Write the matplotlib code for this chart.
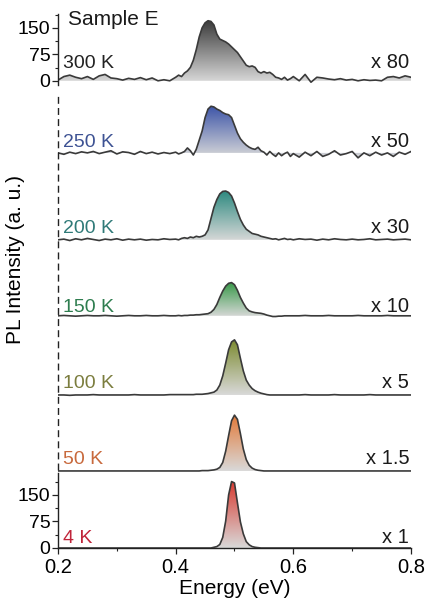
import numpy as np
import matplotlib.pyplot as plt
from matplotlib.colors import LinearSegmentedColormap

plt.rcParams['font.family'] = ['Liberation Sans', 'DejaVu Sans']

# energy grid (eV): coarse on the wings, finer around the emission band
energy = np.round(np.concatenate([np.arange(0.20, 0.395, 0.01),
                                  np.arange(0.400, 0.5975, 0.005),
                                  np.arange(0.60, 0.805, 0.01)]), 3)

temps = ['4 K', '50 K', '100 K', '150 K', '200 K', '250 K', '300 K']
factors = ['x 1', 'x 1.5', 'x 5', 'x 10', 'x 30', 'x 50', 'x 80']

# PL intensity as displayed (already multiplied by the factor), a.u.
pl_4k = [0, 0, 0, 0, 0, 0, 0, 0, 0, 0, 0, 0, 0, 0, 0, 0, 0, 0, 0, 0,
         0, 0, 0, 0, 0, 0, 0, 0, 0, 0, 0, 0, 0, 2, 4, 10, 30, 76, 150, 188,
         184, 128, 74, 40, 18, 9, 4, 2, 1, 0, 0, 0, 0, 0, 0, 0, 0, 0, 0, 0,
         0, 0, 0, 0, 0, 0, 0, 0, 0, 0, 0, 0, 0, 0, 0, 0, 0, 0, 0, 0, 0]
pl_50k = [0, 0, 0, 0, 0, 0, 0, 0, 0, 0, 0, 0, 0, 0, 0, 0, 0, 0, 0, 0,
          0, 0, 0, 0, 0, 0, 0, 0, 0, 1, 1, 1, 2, 3, 5, 10, 24, 56, 100, 142,
          158, 146, 106, 62, 32, 16, 8, 4, 2, 1, 0, 0, 0, 0, 0, 0, 0, 0, 0, 0,
          0, 0, 0, 0, 0, 0, 0, 0, 0, 0, 0, 0, 0, 0, 0, 0, 0, 0, 0, 0, 0]
pl_100k = [0, 0, -1, 0, 0, 0, 1, 0, 0, 0, 0, 0, 0, 1, 0, 0, 0, 0, 0, 1,
           1, 1, 1, 1, 1, 1, 1, 2, 2, 2, 3, 4, 6, 8, 14, 28, 54, 90, 128, 150,
           156, 142, 104, 68, 42, 28, 18, 12, 8, 5, 3, 1, 0, 0, 0, 0, 0, 0, 0, 0,
           0, 0, 1, 0, 0, 0, 0, 1, 0, 0, 0, 0, 0, 1, 0, 0, 0, 0, 0, 0, 0]
pl_150k = [0, 1, 0, -1, 0, 1, 0, 0, 1, 0, -1, 0, 1, 0, 0, 1, 0, 0, 1, 0,
           0, 1, 0, 1, 1, 2, 2, 3, 3, 4, 5, 6, 10, 18, 32, 52, 70, 84, 92, 94,
           88, 72, 52, 36, 22, 14, 11, 9, 8, 7, 5, 2, 0, -2, -2, -1, -1, 0, 0, 0,
           0, 0, 1, 0, 0, 0, 1, 0, 0, 0, 0, 1, 0, 0, 0, 0, 1, 0, 0, 0, 0]
pl_200k = [0, 2, -2, 3, 0, 4, 1, -2, 2, 0, 3, -1, 2, 0, 2, -1, 1, 0, 3, 1,
           2, 0, 4, 6, 4, 8, 6, 10, 8, 10, 14, 28, 60, 92, 114, 130, 137, 138, 134, 124,
           104, 80, 58, 42, 30, 24, 18, 16, 14, 10, 8, 6, 4, 2, 3, 0, 2, 4, 1, 2,
           0, 3, 1, 2, -1, 2, 0, 3, 1, 0, 2, 0, 1, 3, 0, 1, 2, 0, 1, 2, 0]
pl_250k = [0, -4, 2, -2, 3, 0, 4, -2, 2, 6, -3, 3, 1, -4, 4, -2, 2, -3, 1, -2,
           2, -3, 0, 4, 14, 6, -6, 10, 36, 62, 100, 124, 132, 130, 124, 120, 114, 110, 108, 100,
           78, 56, 40, 30, 22, 16, 12, 10, 16, 6, 2, -6, 4, -4, -10, 0, -8, -2, 2, -10,
           -2, -12, 2, -8, 4, -10, -4, 6, -6, -2, 4, -14, 0, -8, 2, -6, 0, -10, 2, -4, 4]
pl_300k = [2, 12, 16, 10, 6, 12, 4, 14, 18, 8, 6, 2, 7, 4, 9, 3, 8, 0, 3, 0,
           10, 16, 12, 22, 28, 38, 58, 88, 124, 150, 164, 170, 168, 158, 132, 118, 114, 110, 104, 96,
           88, 80, 68, 56, 44, 40, 42, 38, 26, 22, 26, 22, 24, 18, 10, 8, 4, 10, 2, 6,
           12, 0, 18, -4, 10, 8, 5, 3, 6, 2, 4, 0, 3, 1, 2, 0, 10, 12, 8, 14, 10]

spectra = [pl_4k, pl_50k, pl_100k, pl_150k, pl_200k, pl_250k, pl_300k]

# styling / layout
offsets = [0, 218, 433, 657, 872, 1118, 1322]
fill_colors = ['#d83a30', '#e27a3a', '#7b8a2e', '#3c9a4c', '#2e8a80', '#3d55a8', '#3a3a3a']
text_colors = ['#c0253a', '#c8693c', '#7b7d3e', '#2e7d4f', '#2f7a78', '#3d5293', '#222222']
lifts = [15, 20, 20, 12, 18, 18, 37]
ytop = 1511
line_col = '#3a3a3a'

fig = plt.figure(figsize=(4.27, 6.08), dpi=100)
ax = fig.add_axes([58 / 427, 60 / 608, 353 / 427, 534 / 608])

grad = np.linspace(0, 1, 256).reshape(-1, 1)
for y, off, fc, tc, temp, fac, lift in zip(spectra, offsets, fill_colors, text_colors,
                                           temps, factors, lifts):
    y = np.array(y, dtype=float)
    poly = ax.fill_between(energy, off, off + y, facecolor='none', edgecolor='none')
    cmap = LinearSegmentedColormap.from_list('g', ['#d9d9d9', fc])
    im = ax.imshow(grad, cmap=cmap, origin='lower', aspect='auto', zorder=1,
                   extent=[0.2, 0.8, off + min(y.min(), 0), off + y.max()])
    im.set_clip_path(poly.get_paths()[0], ax.transData)
    ax.plot(energy, off + y, color=line_col, lw=1.2, zorder=3)
    ax.text(0.209, off + lift, temp, color=tc, fontsize=14, ha='left', va='baseline')
    ax.text(0.797, off + lift, fac, color='#1a1a1a', fontsize=14.5, ha='right', va='baseline')

# left axis: solid for the top and bottom panels, dashed in between
ax.plot([0.2, 0.2], [0, 212], color='#222222', lw=1.0, clip_on=False, zorder=4)
ax.plot([0.2, 0.2], [1310, ytop], color='#222222', lw=1.0, clip_on=False, zorder=4)
ax.plot([0.2, 0.2], [222, 1280], color='#222222', lw=1.0, ls=(0, (5, 3)),
        clip_on=False, zorder=4)

top = offsets[-1]
ax.set_yticks([0, 75, 150, top, top + 75, top + 150])
ax.set_yticklabels(['0', '75', '150'] * 2)
ax.set_yticks([37.5, 112.5, 187.5, top + 37.5, top + 112.5, top + 187.5], minor=True)
ax.set_xticks([0.2, 0.4, 0.6, 0.8])
ax.set_xticklabels(['0.2', '0.4', '0.6', '0.8'])
ax.set_xticks([0.3, 0.5, 0.7], minor=True)
ax.tick_params(axis='both', which='major', direction='out', length=4, width=0.9,
               color='#222222')
ax.tick_params(axis='both', which='minor', direction='out', length=2.5, width=0.8,
               color='#222222')
ax.tick_params(axis='y', labelsize=14, pad=1.5)
ax.tick_params(axis='x', labelsize=14.5, pad=3)

for s in ['top', 'right', 'left']:
    ax.spines[s].set_visible(False)
ax.spines['bottom'].set_linewidth(1.0)
ax.spines['bottom'].set_color('#222222')

ax.set_xlim(0.2, 0.8)
ax.set_ylim(0, ytop)

ax.set_xlabel('Energy (eV)', fontsize=15, labelpad=2)
ax.set_ylabel('PL Intensity (a. u.)', fontsize=15)
ax.yaxis.set_label_coords(-0.093, 0.54)
ax.text(0.217, 1480, 'Sample E', fontsize=15, va='baseline', color='#1a1a1a')

fig.savefig('out.png', dpi=100)
